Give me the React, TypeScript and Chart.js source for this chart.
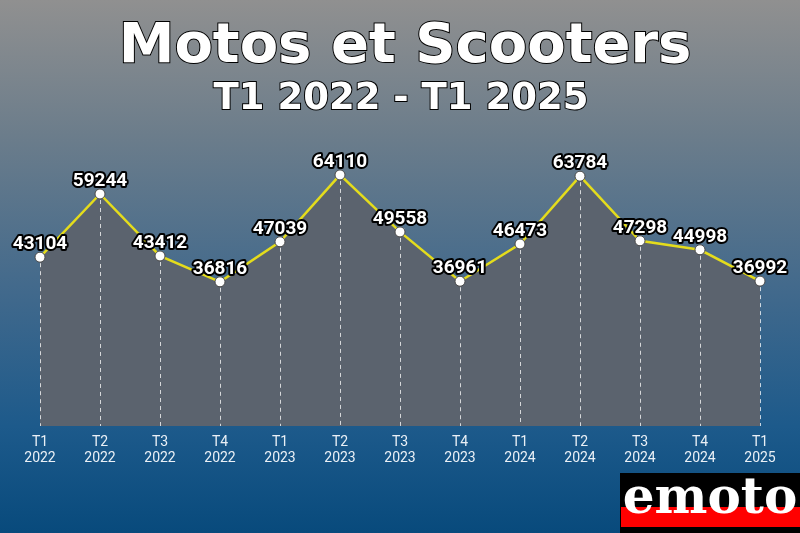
import React, { useEffect, useRef } from "react";
import { Chart, registerables } from "chart.js";

Chart.register(...registerables);

const quarters = ["T1", "T2", "T3", "T4", "T1", "T2", "T3", "T4", "T1", "T2", "T3", "T4", "T1"];
const years = ["2022", "2022", "2022", "2022", "2023", "2023", "2023", "2023", "2024", "2024", "2024", "2024", "2025"];
const values = [43104, 59244, 43412, 36816, 47039, 64110, 49558, 36961, 46473, 63784, 47298, 44998, 36992];

const titleText = "Motos et Scooters";
const subtitleText = "T1 2022 - T1 2025";
const logoText = "emoto";

const dropLinesPlugin = {
  id: "dropLines",
  afterDatasetsDraw(chart: any) {
    const ctx = chart.ctx;
    const meta = chart.getDatasetMeta(0);
    const bottom = chart.chartArea.bottom;
    ctx.save();
    ctx.strokeStyle = "rgba(255,255,255,0.75)";
    ctx.lineWidth = 1;
    ctx.setLineDash([4, 4]);
    meta.data.forEach((pt: any) => {
      const x = Math.round(pt.x) + 0.5;
      ctx.beginPath();
      ctx.moveTo(x, pt.y + 6);
      ctx.lineTo(x, bottom);
      ctx.stroke();
    });
    ctx.restore();
  },
};

const valueLabelsPlugin = {
  id: "valueLabels",
  afterDraw(chart: any) {
    const ctx = chart.ctx;
    const meta = chart.getDatasetMeta(0);
    const data = chart.data.datasets[0].data;
    ctx.save();
    ctx.font = "bold 19px Roboto";
    ctx.textAlign = "center";
    ctx.textBaseline = "middle";
    ctx.lineJoin = "round";
    meta.data.forEach((pt: any, i: number) => {
      const txt = String(data[i]);
      ctx.strokeStyle = "#000";
      ctx.lineWidth = 4;
      ctx.strokeText(txt, pt.x, pt.y - 13);
      ctx.fillStyle = "#fff";
      ctx.fillText(txt, pt.x, pt.y - 13);
    });
    ctx.restore();
  },
};

export default function App() {
  const canvasRef = useRef<HTMLCanvasElement | null>(null);

  useEffect(() => {
    document.body.style.margin = "0";
    const chart = new Chart(canvasRef.current as HTMLCanvasElement, {
      type: "line",
      data: {
        labels: quarters.map((q, i) => [q, years[i]]),
        datasets: [
          {
            data: values,
            borderColor: "#e4dc1c",
            borderWidth: 2.5,
            backgroundColor: "#5b636e",
            fill: "origin",
            tension: 0,
            pointRadius: 5,
            pointBackgroundColor: "#ffffff",
            pointBorderColor: "#4a4a4a",
            pointBorderWidth: 1,
          },
        ],
      },
      options: {
        animation: false,
        responsive: false,
        maintainAspectRatio: false,
        layout: { padding: { left: 40, right: 40, top: 126, bottom: 0 } },
        plugins: {
          legend: { display: false },
          tooltip: { enabled: false },
          title: { display: false },
        },
        scales: {
          x: {
            offset: false,
            border: { display: false },
            grid: { display: false, drawTicks: false },
            ticks: {
              color: "#eaf0f6",
              font: { family: "Roboto", size: 14, lineHeight: 1.15 },
              padding: 8,
              maxRotation: 0,
              autoSkip: false,
            },
            afterFit(scale: any) {
              scale.height = 107;
            },
          },
          y: {
            display: false,
            min: 0,
            max: 76600,
          },
        },
      },
      plugins: [dropLinesPlugin, valueLabelsPlugin],
    } as any);
    return () => chart.destroy();
  }, []);

  const outline = {
    WebkitTextStroke: "2px #000",
    paintOrder: "stroke fill",
  } as React.CSSProperties;

  return (
    <div
      style={{
        position: "absolute",
        left: 0,
        top: 0,
        width: 800,
        height: 533,
        overflow: "hidden",
        background:
          "linear-gradient(to bottom, #909090 0%, #6c7d8b 25%, #41698c 55%, #1d5a8b 80%, #084a7c 100%)",
      }}
    >
      <canvas ref={canvasRef} width={800} height={533} style={{ position: "absolute", left: 0, top: 0 }} />
      <div
        style={{
          position: "absolute",
          left: 5,
          width: 800,
          top: 15,
          textAlign: "center",
          fontFamily: "'DejaVu Sans'",
          fontWeight: "bold",
          fontSize: 56,
          lineHeight: "56px",
          color: "#fff",
          ...outline,
        }}
      >
        {titleText}
      </div>
      <div
        style={{
          position: "absolute",
          left: 1,
          width: 800,
          top: 78,
          textAlign: "center",
          fontFamily: "'DejaVu Sans'",
          fontWeight: "bold",
          fontSize: 37,
          lineHeight: "37px",
          color: "#fff",
          ...outline,
        }}
      >
        {subtitleText}
      </div>
      <div
        style={{
          position: "absolute",
          left: 620,
          top: 473,
          width: 180,
          height: 60,
          background: "#000",
        }}
      >
        <div style={{ position: "absolute", left: 1, top: 34, width: 179, height: 20, background: "#ff0000" }} />
        <div
          style={{
            position: "absolute",
            left: 0,
            top: -2,
            width: 180,
            textAlign: "center",
            fontFamily: "'DejaVu Serif'",
            fontWeight: "bold",
            fontSize: 50,
            lineHeight: "50px",
            color: "#fff",
          }}
        >
          {logoText}
        </div>
      </div>
    </div>
  );
}
